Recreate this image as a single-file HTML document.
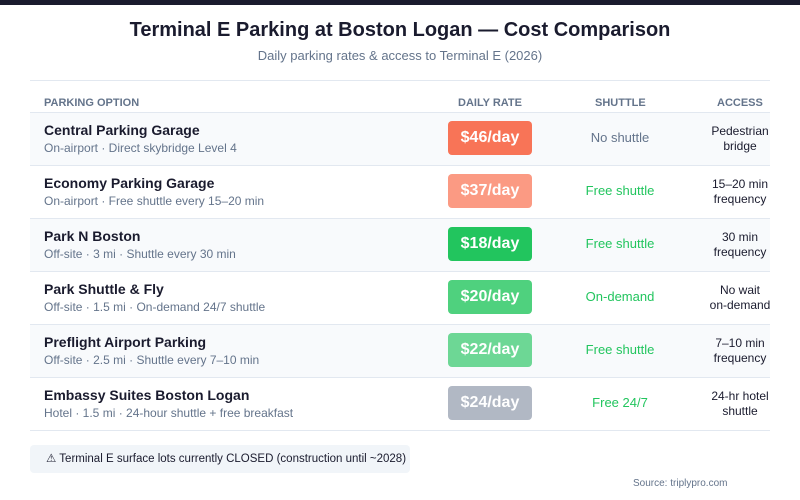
<!DOCTYPE html>
<html><head><style>
*{margin:0;padding:0;box-sizing:border-box}
body{width:800px;height:500px;background:#fff;font-family:"Liberation Sans",sans-serif;position:relative;overflow:hidden}
.top{position:absolute;left:0;top:0;width:800px;height:5px;background:#1a1b2e}
h1{position:absolute;top:19px;left:0;width:800px;text-align:center;font-size:20px;font-weight:bold;color:#1a1b2e}
.sub{position:absolute;top:48px;left:0;width:800px;text-align:center;font-size:13px;color:#64748b}
.tbl{position:absolute;left:30px;top:80px;width:740px;border-top:1px solid #e2e8f0;overflow:hidden}
.hdr{height:32px;position:relative;border-bottom:1px solid #e2e8f0;font-size:11px;font-weight:bold;color:#64748b}
.hdr span{position:absolute;top:16px}
.row{height:53px;position:relative;border-bottom:1px solid #e2e8f0}
.row.alt{background:#f8fafc}
.nm{position:absolute;left:14px;top:9px;font-size:14px;font-weight:bold;color:#1a1b2e}
.ds{position:absolute;left:14px;top:28px;font-size:12px;color:#64748b}
.bd{position:absolute;left:418px;top:8px;width:84px;height:34px;border-radius:4px;color:#fff;font-weight:bold;font-size:16px;text-align:center;line-height:34px}
.sh{position:absolute;left:530px;width:120px;top:17px;text-align:center;font-size:13px;color:#22c55e}
.ac{position:absolute;left:670px;width:80px;top:11px;text-align:center;font-size:12px;line-height:15px;color:#1a1b2e;white-space:nowrap}
.note{position:absolute;left:30px;top:445px;width:380px;height:28px;background:#f1f5f9;border-radius:4px;font-size:11.5px;color:#1a1b2e;line-height:28px;padding-left:16px;white-space:nowrap}
.src{position:absolute;left:633px;top:478px;font-size:10px;color:#64748b}
</style></head><body>
<div class="top"></div>
<h1>Terminal E Parking at Boston Logan — Cost Comparison</h1>
<div class="sub">Daily parking rates &amp; access to Terminal E (2026)</div>
<div class="tbl">
<div class="hdr"><span style="left:14px">PARKING OPTION</span><span style="left:428px">DAILY RATE</span><span style="left:565px">SHUTTLE</span><span style="left:687px">ACCESS</span></div>
<div class="row alt"><div class="nm">Central Parking Garage</div><div class="ds">On-airport · Direct skybridge Level 4</div><div class="bd" style="background:#f87457">$46/day</div><div class="sh" style="color:#64748b">No shuttle</div><div class="ac">Pedestrian<br>bridge</div></div>
<div class="row"><div class="nm">Economy Parking Garage</div><div class="ds">On-airport · Free shuttle every 15–20 min</div><div class="bd" style="background:#fb9a83">$37/day</div><div class="sh">Free shuttle</div><div class="ac">15–20 min<br>frequency</div></div>
<div class="row alt"><div class="nm">Park N Boston</div><div class="ds">Off-site · 3 mi · Shuttle every 30 min</div><div class="bd" style="background:#22c55e">$18/day</div><div class="sh">Free shuttle</div><div class="ac">30 min<br>frequency</div></div>
<div class="row"><div class="nm">Park Shuttle &amp; Fly</div><div class="ds">Off-site · 1.5 mi · On-demand 24/7 shuttle</div><div class="bd" style="background:#4fd17e">$20/day</div><div class="sh">On-demand</div><div class="ac">No wait<br>on-demand</div></div>
<div class="row alt"><div class="nm">Preflight Airport Parking</div><div class="ds">Off-site · 2.5 mi · Shuttle every 7–10 min</div><div class="bd" style="background:#6dd795">$22/day</div><div class="sh">Free shuttle</div><div class="ac">7–10 min<br>frequency</div></div>
<div class="row"><div class="nm">Embassy Suites Boston Logan</div><div class="ds">Hotel · 1.5 mi · 24-hour shuttle + free breakfast</div><div class="bd" style="background:#b1b8c4">$24/day</div><div class="sh">Free 24/7</div><div class="ac">24-hr hotel<br>shuttle</div></div>
</div>
<div class="note">⚠ Terminal E surface lots currently CLOSED (construction until ~2028)</div>
<div class="src">Source: triplypro.com</div>
</body></html>
